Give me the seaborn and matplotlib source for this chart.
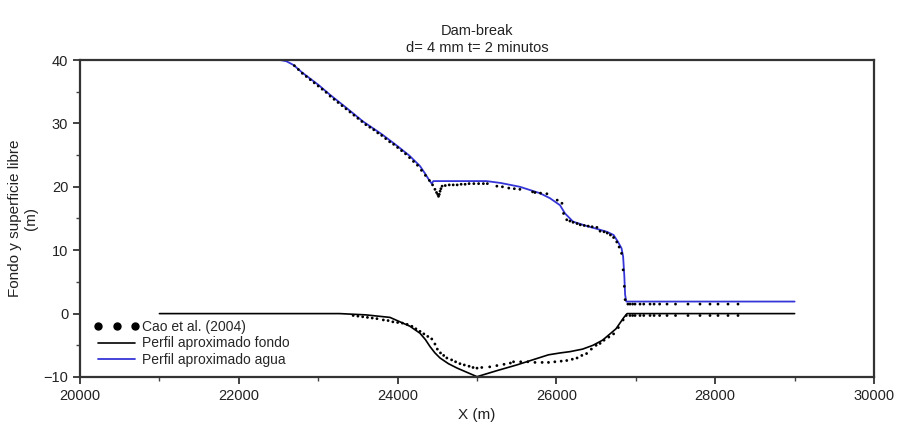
import numpy as np
import pandas as pd
import seaborn as sns
import matplotlib.pyplot as plt
from matplotlib.lines import Line2D

# ---- data ----
water_x = [21000, 22520, 22600, 22690, 22800, 23000, 23150, 23350, 23565, 23800, 23990,
           24150, 24280, 24340, 24400, 24430, 24450, 24700, 25000, 25120, 25300, 25540,
           25790, 25919, 26045, 26108, 26210, 26385, 26500, 26637, 26720, 26776, 26820,
           26840, 26855, 26865, 26880, 29000]
water_y = [40.0, 40.0, 39.8, 39.2, 38.0, 36.1, 34.5, 32.5, 30.3, 28.3, 26.5,
           24.9, 23.3, 22.2, 21.0, 20.5, 20.9, 20.9, 20.9, 20.9, 20.6, 20.0,
           19.0, 18.2, 17.1, 15.8, 14.5, 13.8, 13.4, 12.9, 12.4, 11.3, 10.3,
           9.0, 6.0, 3.0, 1.9, 1.9]

bed_x = [21000, 23270, 23600, 23904, 24156, 24282, 24350, 24408, 24470, 24534, 24640,
         24750, 24880, 25000, 25250, 25500, 25750, 25900, 26050, 26171, 26330, 26460, 26580,
         26675, 26750, 26800, 26850, 26890, 29000]
bed_y = [0.0, 0.0, -0.2, -0.6, -2.0, -3.1, -4.1, -5.2, -6.2, -7.0, -7.9,
         -8.6, -9.3, -9.95, -9.0, -8.1, -7.1, -6.5, -6.2, -6.0, -5.6, -5.0, -4.2,
         -3.2, -2.4, -1.5, -0.6, 0.0, 0.0]

cao_water_x = [22700, 22750, 22800, 22850, 22900, 22950, 23000, 23050, 23100, 23150,
               23200, 23250, 23300, 23350, 23400, 23450, 23500, 23550, 23600, 23650,
               23700, 23750, 23800, 23850, 23900, 23950, 24000, 24050, 24100, 24150,
               24200, 24250, 24300, 24350, 24400, 24440, 24470, 24490, 24505, 24515,
               24525, 24535, 24545, 24560, 24600, 24650, 24700, 24750, 24800, 24850,
               24900, 24960, 25020, 25080, 25130, 25250, 25320, 25400, 25470, 25540,
               25700, 25730, 25800, 25880, 26010, 26070, 26090, 26130, 26170, 26210,
               26260, 26300, 26350, 26400, 26450, 26510, 26550, 26600, 26640, 26680,
               26720, 26760, 26790, 26820, 26840, 26855, 26865, 26900, 26927, 26960,
               26990, 27053, 27100, 27179, 27230, 27300, 27393, 27500, 27657, 27808,
               27934, 28035, 28161, 28287]
cao_water_y = [39.1, 38.5, 37.9, 37.4, 36.9, 36.4, 35.9, 35.4, 34.9, 34.3,
               33.8, 33.3, 32.8, 32.3, 31.8, 31.3, 30.8, 30.3, 29.8, 29.4,
               29.0, 28.5, 28.1, 27.6, 27.1, 26.7, 26.2, 25.7, 25.2, 24.6,
               24.0, 23.4, 22.6, 21.8, 21.0, 20.3, 19.6, 19.1, 18.8, 18.5,
               18.8, 19.3, 19.7, 20.1, 20.2, 20.3, 20.3, 20.3, 20.4, 20.4,
               20.5, 20.5, 20.5, 20.5, 20.5, 20.1, 20.0, 19.8, 19.7, 19.6,
               19.2, 19.1, 19.0, 18.9, 17.9, 17.4, 15.8, 14.8, 14.6, 14.4,
               14.2, 14.0, 13.9, 13.8, 13.7, 13.6, 13.0, 12.9, 12.7, 12.4,
               12.0, 11.3, 10.5, 9.5, 6.9, 4.3, 2.2, 1.5, 1.5, 1.5,
               1.5, 1.5, 1.5, 1.5, 1.5, 1.5, 1.5, 1.5, 1.5, 1.5,
               1.5, 1.5, 1.5, 1.5]

cao_bed_x = [23440, 23500, 23560, 23620, 23680, 23740, 23820, 23880, 23940, 24000,
             24060, 24120, 24180, 24230, 24282, 24330, 24380, 24430, 24470, 24500,
             24540, 24580, 24620, 24680, 24730, 24785, 24840, 24900, 24950, 25000,
             25060, 25160, 25250, 25340, 25420, 25460, 25550, 25640, 25730, 25820,
             25900, 25980, 26060, 26130, 26200, 26260, 26320, 26380, 26440, 26500,
             26550, 26600, 26660, 26720, 26780, 26840, 26880, 26927, 26960, 26990,
             27053, 27100, 27179, 27230, 27300, 27393, 27500, 27657, 27808, 27934,
             28035, 28161, 28287]
cao_bed_y = [-0.3, -0.4, -0.5, -0.6, -0.7, -0.8, -1.0, -1.1, -1.3, -1.4,
             -1.5, -1.7, -2.0, -2.4, -2.8, -3.2, -3.6, -4.0, -4.8, -5.6,
             -6.2, -6.6, -7.0, -7.3, -7.6, -7.9, -8.1, -8.3, -8.5, -8.6,
             -8.5, -8.4, -8.2, -8.0, -7.8, -7.6, -7.6, -7.6, -7.7, -7.7,
             -7.7, -7.6, -7.5, -7.4, -7.2, -7.0, -6.6, -6.3, -5.6, -5.0,
             -4.7, -4.2, -3.7, -3.2, -2.2, -1.0, -0.3, -0.3, -0.3, -0.3,
             -0.3, -0.3, -0.3, -0.3, -0.3, -0.3, -0.3, -0.3, -0.3, -0.3,
             -0.3, -0.3, -0.3]

# ---- figure ----
sns.set_theme(style="ticks")
plt.rcParams['font.family'] = ['Liberation Sans', 'DejaVu Sans']

fig = plt.figure(figsize=(8.98, 4.37), dpi=100)
ax = fig.add_axes([0.0891, 0.1373, 0.8842, 0.7254])

blue = '#3535d8'
df_water = pd.DataFrame({'x': water_x, 'y': water_y})
df_bed = pd.DataFrame({'x': bed_x, 'y': bed_y})
df_cw = pd.DataFrame({'x': cao_water_x, 'y': cao_water_y})
df_cb = pd.DataFrame({'x': cao_bed_x, 'y': cao_bed_y})

sns.lineplot(data=df_bed, x='x', y='y', sort=False, estimator=None, color='black', lw=1.2, ax=ax)
sns.lineplot(data=df_water, x='x', y='y', sort=False, estimator=None, color=blue, lw=1.3, ax=ax)
sns.scatterplot(data=df_cw, x='x', y='y', color='black', s=4, edgecolor='none', ax=ax, zorder=3)
sns.scatterplot(data=df_cb, x='x', y='y', color='black', s=4, edgecolor='none', ax=ax, zorder=3)

ax.set_xlim(20000, 30000)
ax.set_ylim(-10, 40)
ax.set_xticks([20000, 22000, 24000, 26000, 28000, 30000])
ax.set_xticks(np.arange(21000, 30000, 2000), minor=True)
ax.set_yticks([-10, 0, 10, 20, 30, 40])
ax.set_yticks([-5, 5, 15, 25, 35], minor=True)
ax.tick_params(axis='both', which='major', direction='out', length=5, width=1.2,
               labelsize=10.5, colors='#222222', labelcolor='#222222')
ax.tick_params(axis='both', which='minor', direction='out', length=3, width=1.0, colors='#444444')
for s in ax.spines.values():
    s.set_linewidth(1.6)
    s.set_color('#333333')

ax.set_xlabel('X (m)', fontsize=11, color='#222222')
ax.set_ylabel('Fondo y superficie libre\n(m)', fontsize=11, color='#222222')
ax.set_title('Dam-break\nd= 4 mm t= 2 minutos', fontsize=10.5, color='#222222', pad=6)

handles = [
    Line2D([], [], linestyle='none', marker='o', markersize=5, color='black'),
    Line2D([], [], color='black', lw=1.2),
    Line2D([], [], color=blue, lw=1.3),
]
labels = ['Cao et al. (2004)', 'Perfil aproximado fondo', 'Perfil aproximado agua']
ax.legend(handles, labels, loc='lower left', bbox_to_anchor=(0.005, 0.0), frameon=False,
          numpoints=3, handlelength=3.3, handletextpad=0.2, labelspacing=0.2,
          fontsize=10, borderaxespad=0.3)

fig.savefig('out.png', dpi=100)
